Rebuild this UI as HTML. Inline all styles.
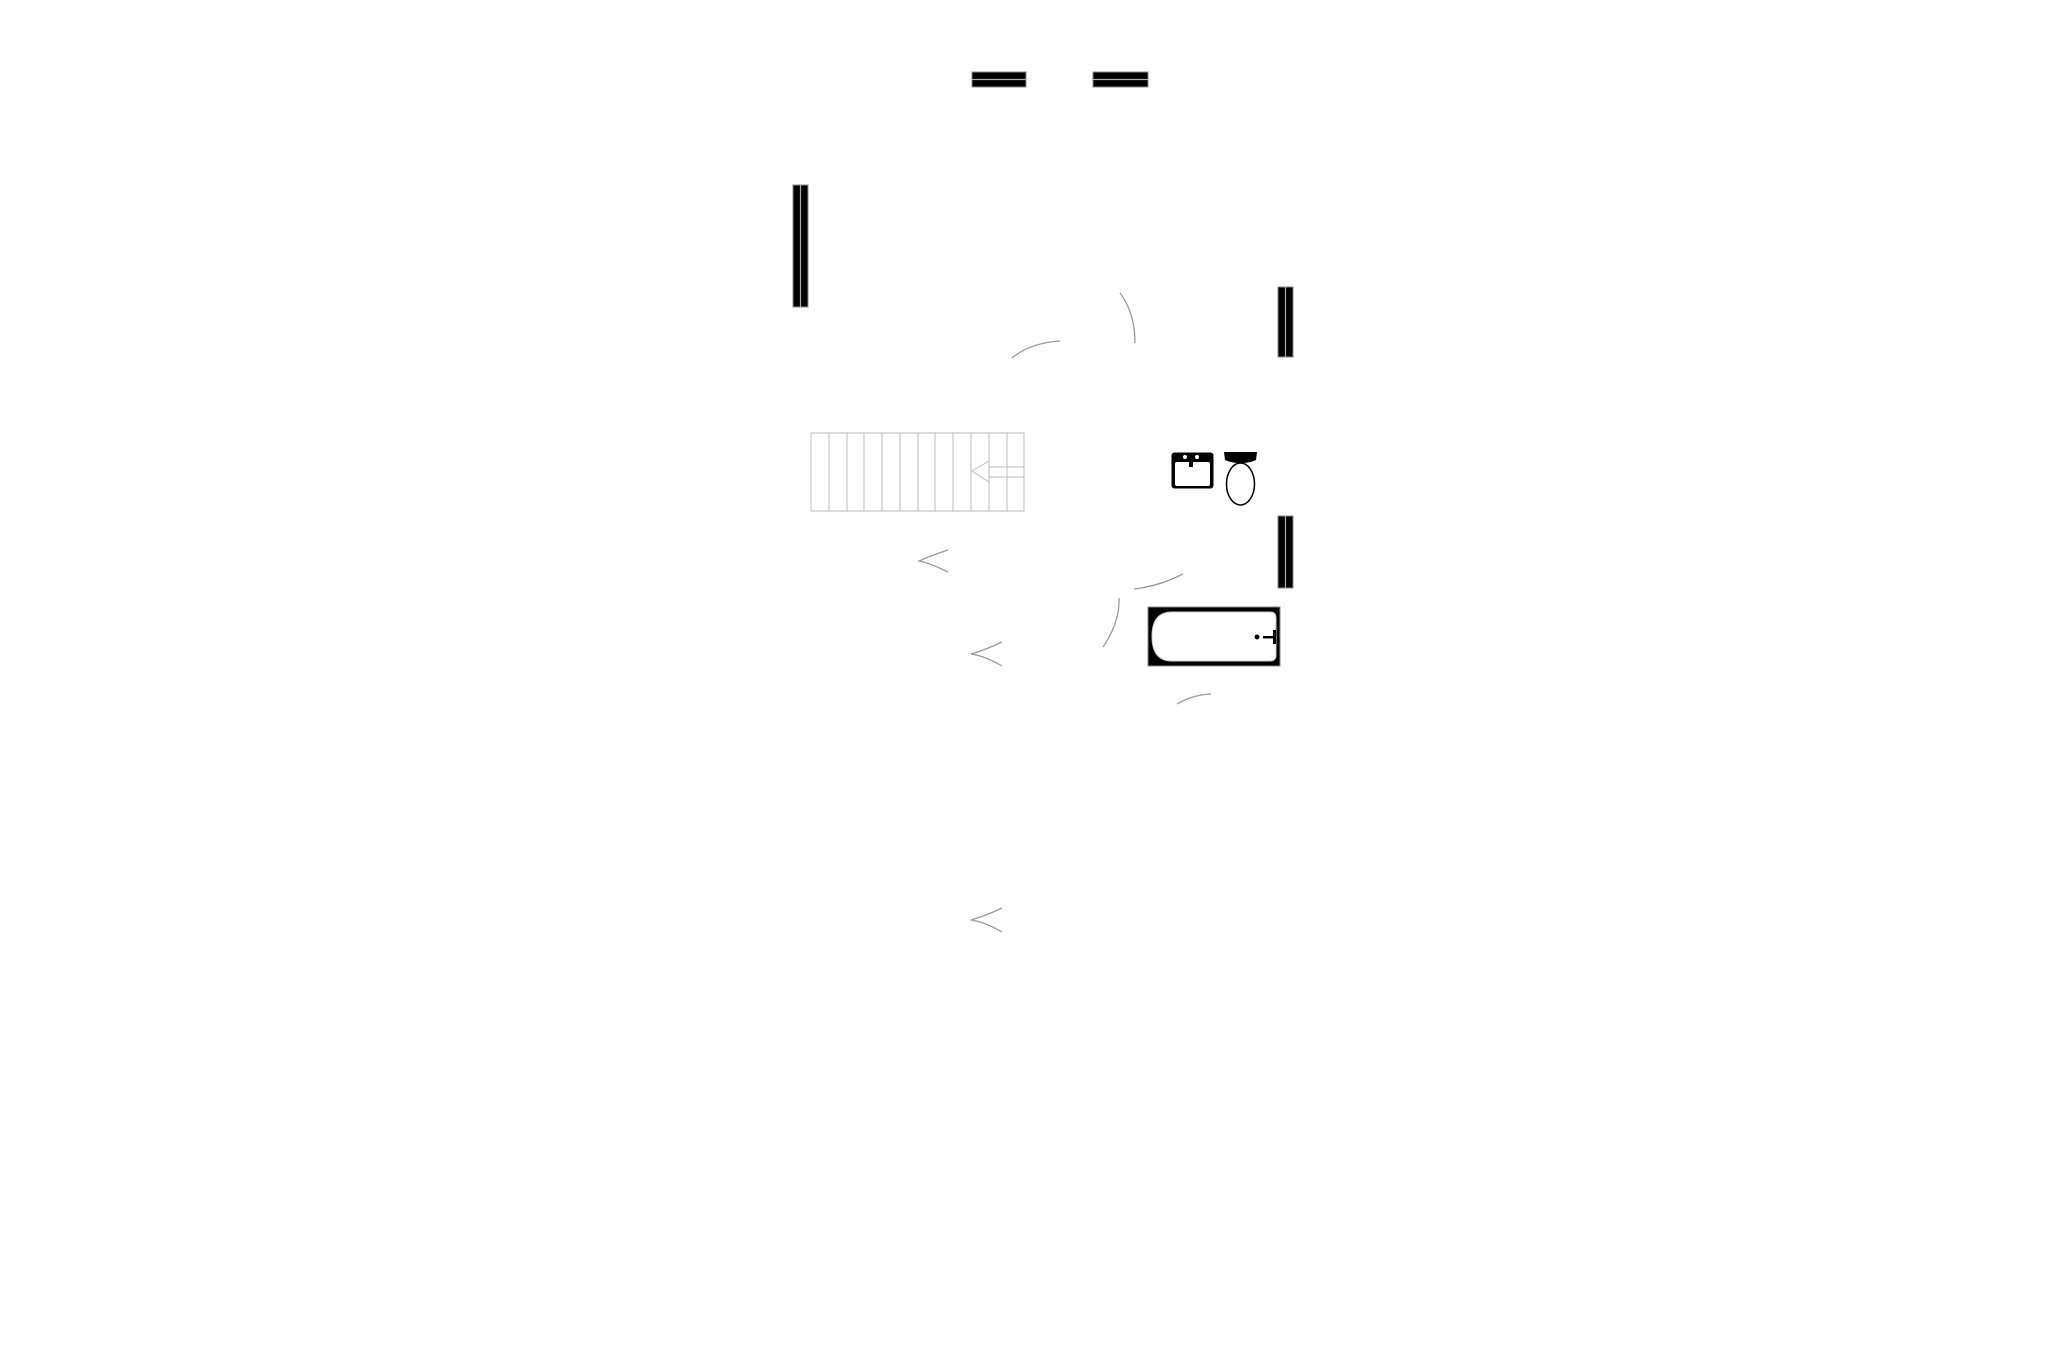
<!DOCTYPE html>
<html><head><meta charset="utf-8"><style>
html,body{margin:0;padding:0;background:#fff;width:2057px;height:1371px;overflow:hidden}
svg{display:block}
</style></head><body>
<svg width="2057" height="1371" viewBox="0 0 2057 1371" xmlns="http://www.w3.org/2000/svg">
<g fill="#000" stroke="#888" stroke-width="1">
<rect x="972" y="72" width="54" height="15"/>
<rect x="1093" y="72" width="55" height="15"/>
<rect x="793" y="185" width="15" height="122"/>
<rect x="1278" y="287" width="15" height="70"/>
<rect x="1278" y="516" width="15" height="72"/>
</g>
<g stroke="#aaa" stroke-width="1.2">
<line x1="972" y1="79.5" x2="1026" y2="79.5"/>
<line x1="1093" y1="79.5" x2="1148" y2="79.5"/>
<line x1="800.5" y1="185" x2="800.5" y2="307"/>
<line x1="1285.5" y1="287" x2="1285.5" y2="357"/>
<line x1="1285.5" y1="516" x2="1285.5" y2="588"/>
</g>
<g fill="none" stroke="#999" stroke-width="1.3">
<path d="M1120 293 Q1135 313 1135 343"/>
<path d="M1012 358 Q1030 343 1060 341"/>
<path d="M1134 589 Q1160 586 1183 574"/>
<path d="M1119 598 Q1120 622 1103 647"/>
<path d="M1177 704 Q1192 695 1211 694"/>
<path d="M948 550 Q930 556 919 561 Q930 563 948 572"/>
<path d="M1002 642 Q985 650 971 654 Q985 656 1002 666"/>
<path d="M1002 908 Q985 916 971 920 Q985 922 1002 932"/>
</g>
<g fill="none" stroke="#bbb" stroke-width="1">
<rect x="811" y="433" width="213" height="78"/>
<line x1="829" y1="433" x2="829" y2="511"/>
<line x1="847" y1="433" x2="847" y2="511"/>
<line x1="864" y1="433" x2="864" y2="511"/>
<line x1="882" y1="433" x2="882" y2="511"/>
<line x1="900" y1="433" x2="900" y2="511"/>
<line x1="918" y1="433" x2="918" y2="511"/>
<line x1="935" y1="433" x2="935" y2="511"/>
<line x1="953" y1="433" x2="953" y2="511"/>
<line x1="971" y1="433" x2="971" y2="511"/>
<line x1="989" y1="433" x2="989" y2="511"/>
<line x1="1007" y1="433" x2="1007" y2="511"/>
<line x1="989" y1="467" x2="1024" y2="467"/>
<line x1="989" y1="477" x2="1024" y2="477"/>
<polyline points="989,461 972,471 989,482"/>
</g>
<rect x="1171.5" y="452.5" width="42" height="36" rx="3" fill="#000"/>
<rect x="1175" y="462" width="35" height="24" rx="2" fill="#fff"/>
<rect x="1189" y="458" width="4" height="9" fill="#000"/>
<circle cx="1185" cy="457" r="2" fill="#fff"/><circle cx="1197" cy="457" r="2" fill="#fff"/>
<path d="M1224 452 L1257 452 L1256 460 Q1250 463 1240.5 463 Q1231 463 1225 460 Z" fill="#000"/>
<ellipse cx="1240.5" cy="484" rx="14" ry="21" fill="#fff" stroke="#000" stroke-width="1.5"/>
<rect x="1148" y="607" width="132" height="59" fill="#000" stroke="#888" stroke-width="1"/>
<path d="M1172 612 L1270 612 Q1276 612 1276 618 L1276 655 Q1276 661 1270 661 L1172 661 Q1152 661 1152 636.5 Q1152 612 1172 612 Z" fill="#fff" stroke="#ccc" stroke-width="1"/>
<circle cx="1257" cy="637" r="2.5" fill="#000"/>
<rect x="1263" y="636" width="11" height="2.5" fill="#000"/>
<rect x="1273" y="630" width="3" height="14" fill="#000"/>
</svg>
</body></html>
